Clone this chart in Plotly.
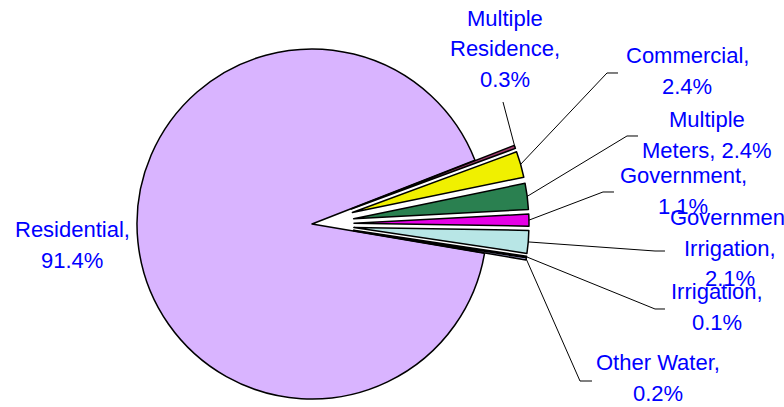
import math
import plotly.graph_objects as go

# ---- data ----
categories = ["Residential", "Multiple Residence", "Commercial", "Multiple Meters",
              "Government", "Government Irrigation", "Irrigation", "Other Water"]
shares = [91.4, 0.3, 2.4, 2.4, 1.1, 2.1, 0.1, 0.2]
label_texts = ["Residential,<br>91.4%", "Multiple<br>Residence,<br>0.3%", "Commercial,<br>2.4%",
               "Multiple<br>Meters, 2.4%", "Government,<br>1.1%", "Government<br>Irrigation,<br>2.1%",
               "Irrigation,<br>0.1%", "Other Water,<br>0.2%"]

# ---- style / layout ----
W, H = 784, 407
colors = ["#D9B4FF", "#A03C6E", "#F0F000", "#2A8050", "#E600E6", "#B8E6E6", "#5050A0", "#C8C8FF"]
explode = [0, 0.24, 0.24, 0.24, 0.24, 0.24, 0.24, 0.24]   # fraction of radius
CX, CY, R = 312, 224, 175      # pie centre / radius in pixels
ROT = 99.6                      # start angle, clockwise from 12 o'clock
LINE_H = 30.5                   # label line spacing (px)
# label centres (px) and leader elbows (px): (tx, ty, elbow_x, elbow_y, end_x)
label_pos = [
    (72, 245, None, None, None),
    (505, 49, 503, 102, 503),
    (687, 71, 607, 73, 618),
    (707, 135, 627, 136, 638),
    (683, 191, 603, 192, 614),
    (730, 248, 655, 251, 665),
    (717, 307, 655, 309, 665),
    (658, 378, 580, 381, 592),
]

total = sum(shares)
fig = go.Figure()
shapes = []
annotations = []
cum = 0.0
for i, (cat, v) in enumerate(zip(categories, shares)):
    a0 = ROT + 360 * cum / total
    a1 = ROT + 360 * (cum + v) / total
    cum += v
    mid = math.radians((a0 + a1) / 2)          # clockwise from 12 o'clock
    d = explode[i] * R
    cx = CX + d * math.sin(mid)
    cy = CY - d * math.cos(mid)
    fills = ["rgba(0,0,0,0)"] * len(shares)
    widths = [0] * len(shares)
    fills[i] = colors[i]
    widths[i] = 1.5
    fig.add_trace(go.Pie(
        labels=categories, values=shares, sort=False, direction="clockwise",
        rotation=ROT, textinfo="none", hoverinfo="skip", showlegend=False,
        marker=dict(colors=fills, line=dict(color="black", width=widths)),
        domain=dict(x=[(cx - R) / W, (cx + R) / W],
                    y=[(H - cy - R) / H, (H - cy + R) / H]),
    ))
    tx, ty, ex, ey, hx = label_pos[i]
    lines = label_texts[i].split("<br>")
    n = len(lines)
    for j, line in enumerate(lines):
        ly = ty + (j - (n - 1) / 2) * LINE_H
        annotations.append(dict(
            text=line, x=tx / W, y=1 - ly / H, xref="paper", yref="paper",
            xanchor="center", yanchor="middle", align="center", showarrow=False,
            font=dict(family="Liberation Sans, Arial, sans-serif", size=22, color="#0000FF"),
        ))
    if ex is not None:
        sx = cx + R * math.sin(mid)
        sy = cy - R * math.cos(mid)
        path = "M {:.5f},{:.5f} L {:.5f},{:.5f} L {:.5f},{:.5f}".format(
            sx / W, 1 - sy / H, ex / W, 1 - ey / H, hx / W, 1 - ey / H)
        shapes.append(dict(type="path", path=path, xref="paper", yref="paper",
                           line=dict(color="black", width=1)))

fig.update_layout(
    width=W, height=H, autosize=False,
    margin=dict(l=0, r=0, t=0, b=0),
    paper_bgcolor="white", plot_bgcolor="white",
    annotations=annotations, shapes=shapes,
)
fig.write_html("out.html")
